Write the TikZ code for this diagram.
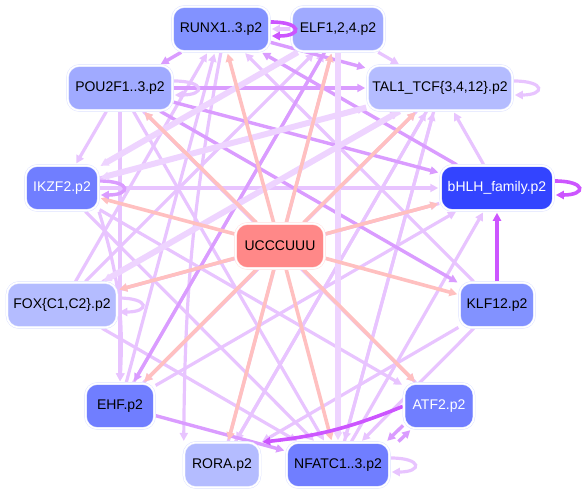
\documentclass[tikz,border=0pt]{standalone}
\usepackage{fontspec}
\setmainfont{Liberation Sans}
\usetikzlibrary{arrows.meta, backgrounds}

\definecolor{salmonedge}{RGB}{255,192,192}
\definecolor{lightedge}{RGB}{232,196,255}
\definecolor{paleedge}{RGB}{238,212,255}
\definecolor{midedge}{RGB}{218,156,255}
\definecolor{strongedge}{RGB}{204,85,255}
\definecolor{ringblue}{RGB}{222,226,255}
\definecolor{ringred}{RGB}{255,222,222}
\definecolor{blueA}{RGB}{51,68,255}
\definecolor{blueB}{RGB}{112,126,255}
\definecolor{blueC}{RGB}{130,146,255}
\definecolor{blueD}{RGB}{160,170,255}
\definecolor{blueE}{RGB}{180,188,255}
\definecolor{ucred}{RGB}{255,136,136}

\tikzstyle{gene} = [
    rectangle,
    rounded corners=12pt,
    draw=ringblue,
    double=white,
    double distance=1.6pt,
    line width=0.5pt,
    minimum height=45pt,
    inner sep=0pt,
    font=\fontsize{14}{16}\selectfont
]
\tikzstyle{tip} = [
    -{Triangle[length=8pt,width=8pt]},
    shorten >=2pt,
    shorten <=1pt
]
\tikzstyle{sal} = [tip, line width=3.6pt, draw=salmonedge]
\tikzstyle{lt} = [tip, line width=3.2pt, draw=lightedge]
\tikzstyle{md} = [tip, line width=3.4pt, draw=midedge]
\tikzstyle{fat} = [tip, line width=6pt, draw=paleedge]
\tikzstyle{st} = [tip, line width=3.6pt, draw=strongedge]

\begin{document}
\begin{tikzpicture}[x=1pt, y=-1pt]
    \useasboundingbox (0,0) rectangle (585,495);

    % genes around the motif
    \node[gene, fill=blueC, minimum width=97pt] (runx) at (221,29) {RUNX1..3.p2};
    \node[gene, fill=blueD, minimum width=93pt] (elf) at (338,29) {ELF1,2,4.p2};
    \node[gene, fill=blueD, minimum width=105pt] (pou) at (120,88) {POU2F1..3.p2};
    \node[gene, fill=blueE, minimum width=145pt] (tal) at (440,88) {TAL1\_TCF\{3,4,12\}.p2};
    \node[gene, fill=blueB, minimum width=73pt, text=white] (ikzf) at (62,188) {IKZF2.p2};
    \node[gene, fill=blueA, minimum width=113pt, text=white] (bhlh) at (497,188) {bHLH\_family.p2};
    \node[gene, fill=ucred, draw=ringred, minimum width=89pt] (ucc) at (280,246) {UCCCUUU};
    \node[gene, fill=blueE, minimum width=110pt] (fox) at (62,305) {FOX\{C1,C2\}.p2};
    \node[gene, fill=blueC, minimum width=75pt] (klf) at (497,305) {KLF12.p2};
    \node[gene, fill=blueB, minimum width=69pt] (ehf) at (120,406) {EHF.p2};
    \node[gene, fill=blueB, minimum width=70pt, text=white] (atf) at (439,406) {ATF2.p2};
    \node[gene, fill=blueE, minimum width=76pt] (rora) at (222,465) {RORA.p2};
    \node[gene, fill=blueB, minimum width=103pt] (nfatc) at (338,465) {NFATC1..3.p2};

    \begin{scope}[on background layer]
        % weak links
        \foreach \s/\t in {ehf/runx, klf/runx, fox/runx, elf/tal, bhlh/tal,
                ikzf/tal, ehf/tal, rora/tal, nfatc/tal, fox/tal, pou/ikzf,
                tal/ehf, pou/ehf, ikzf/atf, pou/atf, ikzf/nfatc, pou/nfatc,
                tal/nfatc, klf/rora, tal/rora, bhlh/fox, ehf/elf, fox/elf,
                rora/elf, ehf/bhlh, nfatc/bhlh, fox/bhlh, ikzf/bhlh, fox/nfatc,
                atf/pou, klf/nfatc}
            \draw[lt] (\s) -- (\t);
        \draw[lt] (runx.south) to[bend right=5] (rora.150);
        \draw[lt] (ikzf.south east) to[bend left=10] (ehf.north);
        \draw[lt] (elf.west) -- (runx.east);

        % medium links
        \foreach \s/\t in {bhlh/runx, runx/pou, pou/tal, pou/bhlh, elf/ehf,
                ehf/nfatc, runx/tal, pou/klf}
            \draw[md] (\s) -- (\t);
        \draw[md] ([yshift=4pt]atf.south west) -- ([xshift=-4pt]nfatc.north east);
        \draw[md] ([xshift=8pt]nfatc.north east) -- ([xshift=8pt]atf.south west);

        % heavy links
        \foreach \s/\t in {elf/ikzf, tal/ikzf, elf/nfatc, tal/fox}
            \draw[fat] (\s) -- (\t);

        % motif to every gene
        \foreach \t in {runx,elf,pou,tal,ikzf,bhlh,fox,klf,ehf,atf,rora,nfatc}
            \draw[sal] (ucc) -- (\t);

        \draw[st] (klf) -- (bhlh);
        \draw[st] (atf.west) to[bend left=8] (rora.north east);

        % self loops
        \draw[st] ([yshift=7pt]bhlh.east) to[out=0,in=0,looseness=6] ([yshift=-7pt]bhlh.east);
        \draw[md] ([yshift=7pt]ikzf.east) to[out=0,in=0,looseness=6] ([yshift=-7pt]ikzf.east);
        \draw[lt] ([yshift=7pt]tal.east) to[out=0,in=0,looseness=6] ([yshift=-7pt]tal.east);
        \draw[lt] ([yshift=7pt]pou.east) to[out=0,in=0,looseness=6] ([yshift=-7pt]pou.east);
        \draw[lt] ([yshift=7pt]fox.east) to[out=0,in=0,looseness=6] ([yshift=-7pt]fox.east);
        \draw[lt] ([yshift=7pt]nfatc.east) to[out=0,in=0,looseness=6] ([yshift=-7pt]nfatc.east);
    \end{scope}
    \draw[st] ([yshift=7pt]runx.east) to[out=0,in=0,looseness=6] ([yshift=-7pt]runx.east);
\end{tikzpicture}
\end{document}
